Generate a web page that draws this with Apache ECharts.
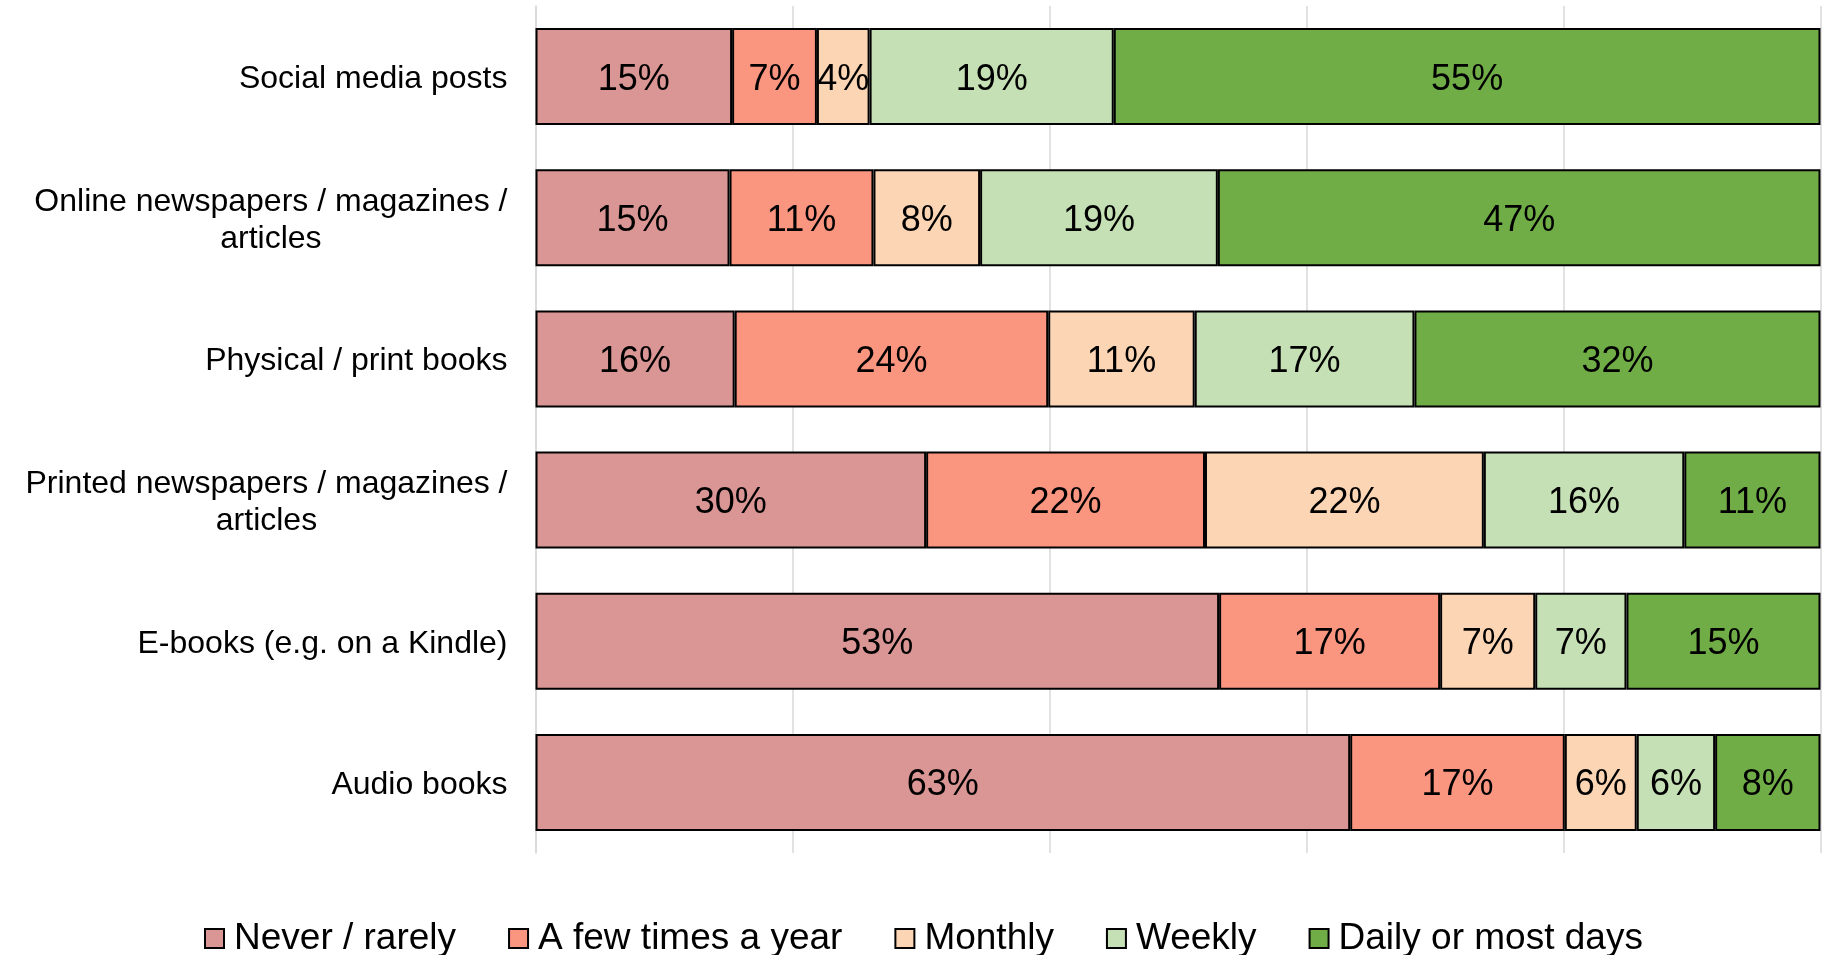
<!DOCTYPE html>
<html>
<head>
<meta charset="utf-8">
<script src="https://cdn.jsdelivr.net/npm/echarts@6/dist/echarts.min.js"></script>
<style>
  html, body { margin: 0; padding: 0; background: #fff; }
  #chart { width: 1838px; height: 955px; }
</style>
</head>
<body>
<div id="chart"></div>
<script>
var categories = [
  "Social media posts",
  "Online newspapers / magazines /\narticles",
  "Physical / print books",
  "Printed newspapers / magazines /\narticles",
  "E-books (e.g. on a Kindle)",
  "Audio books"
];
var seriesNames = ["Never / rarely", "A few times a year", "Monthly", "Weekly", "Daily or most days"];
var colors = ["#DA9694", "#FA9580", "#FCD5B4", "#C5E0B4", "#70AD47"];

// percentages per category (top to bottom)
var neverRarely = [15.3, 15.1, 15.5, 30.4, 53.2, 63.4];
var fewTimes    = [6.6, 11.2, 24.4, 21.7, 17.2, 16.7];
var monthly     = [4.1, 8.3, 11.4, 21.7, 7.4, 5.6];
var weekly      = [19.0, 18.5, 17.1, 15.6, 7.1, 6.1];
var daily       = [55.0, 46.9, 31.6, 10.6, 15.1, 8.2];

var values = [neverRarely, fewTimes, monthly, weekly, daily];
var font = "Liberation Sans, Arial, sans-serif";

var chart = echarts.init(document.getElementById("chart"));

chart.setOption({
  animation: false,
  grid: { left: 535.5, right: 17.5, top: 6, bottom: 102, containLabel: false },
  legend: {
    data: seriesNames,
    left: 199,
    top: 915,
    itemWidth: 19,
    itemHeight: 19,
    itemGap: 52,
    icon: "rect",
    textStyle: { fontSize: 37, fontFamily: font, color: "#000", padding: [0, 0, 0, 5] }
  },
  xAxis: {
    type: "value",
    min: 0,
    max: 100,
    interval: 20,
    axisLabel: { show: false },
    axisLine: { show: false },
    axisTick: { show: false },
    splitLine: { lineStyle: { color: "#d9d9d9", width: 1.5 } }
  },
  yAxis: {
    type: "category",
    inverse: true,
    data: categories,
    axisLine: { lineStyle: { color: "#d9d9d9", width: 1.5 } },
    axisTick: { length: 9, lineStyle: { color: "#d9d9d9", width: 1.5 } },
    axisLabel: {
      margin: 28,
      fontSize: 32,
      fontFamily: font,
      color: "#000",
      lineHeight: 37,
      padding: [5, 0, 0, 0],
      formatter: function (v) {
        if (v.indexOf("\n") < 0) return v;
        return v.split("\n").map(function (s) { return "{c|" + s + "}"; }).join("\n");
      },
      rich: {
        c: { align: "center", fontSize: 32, fontFamily: font, color: "#000", lineHeight: 37 }
      }
    }
  },
  series: seriesNames.map(function (name, i) {
    return {
      name: name,
      type: "bar",
      stack: "total",
      barWidth: 97,
      data: values[i],
      itemStyle: { color: colors[i], borderColor: "#000", borderWidth: 2 },
      label: {
        show: true,
        position: "inside",
        offset: [0, 3],
        color: "#000",
        fontSize: 36,
        fontFamily: font,
        formatter: function (p) { return Math.round(p.value) + "%"; }
      }
    };
  })
});
</script>
</body>
</html>
